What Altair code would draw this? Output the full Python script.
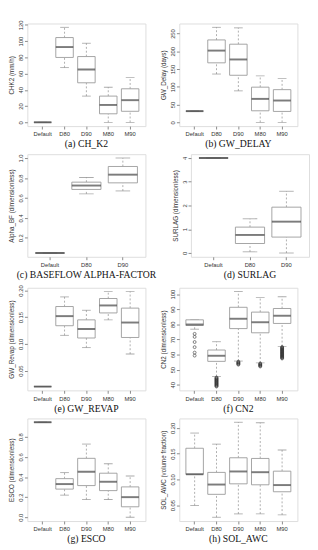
import altair as alt
import pandas as pd

CATS5 = ["Default", "D80", "D90", "M80", "M90"]
CATS3 = ["Default", "D80", "D90"]

# (a) CH_K2
a_lo = [0, 67.4, 32.3, 0, 0]
a_q1 = [0, 79.9, 48.7, 10.5, 13.6]
a_med = [0, 92.7, 65.0, 21.4, 27.3]
a_q3 = [0, 104.4, 81.0, 32.3, 41.3]
a_hi = [0, 117.0, 97.4, 43.2, 55.0]

# (b) GW_DELAY
b_lo = [31.5, 136, 88.6, 0, 0]
b_q1 = [31.5, 167.5, 132.5, 32.5, 30.7]
b_med = [31.5, 202, 177, 66, 61.4]
b_q3 = [31.5, 232, 220, 99, 92]
b_hi = [31.5, 267.5, 266, 130.7, 123.7]

# (c) BASEFLOW ALPHA-FACTOR
c_lo = [0.048, 0.641, 0.67]
c_q1 = [0.048, 0.685, 0.751]
c_med = [0.048, 0.724, 0.833]
c_q3 = [0.048, 0.758, 0.915]
c_hi = [0.048, 0.805, 1.0]

# (d) SURLAG
d_lo = [4, 0.05, 0]
d_q1 = [4, 0.4, 0.67]
d_med = [4, 0.76, 1.32]
d_q3 = [4, 1.09, 1.93]
d_hi = [4, 1.44, 2.6]

# (e) GW_REVAP
e_lo = [0.02, 0.116, 0.093, 0.145, 0.081]
e_q1 = [0.02, 0.134, 0.111, 0.158, 0.112]
e_med = [0.02, 0.152, 0.128, 0.172, 0.140]
e_q3 = [0.02, 0.170, 0.145, 0.185, 0.167]
e_hi = [0.02, 0.188, 0.163, 0.198, 0.198]

# (f) CN2
f_lo = [76.8, 45.5, 55.7, 54.5, 65.4]
f_q1 = [79.3, 55.5, 77.2, 74.4, 80.6]
f_med = [79.9, 59.2, 83.7, 81.4, 85.7]
f_q3 = [83.0, 63.0, 91.3, 88.1, 90.5]
f_hi = [83.0, 68.5, 101.7, 97.9, 98.3]
f_out_default = [73.7, 71.7, 68.3, 64.9, 61.3, 59.3]
f_out_d80 = [44.8, 44.4, 44.0, 43.6, 43.2, 42.8, 42.4, 42.0, 41.6, 41.2, 40.8,
             40.4, 40.0, 39.6, 39.2, 38.8]
f_out_d90 = [55.3, 54.9, 54.5, 54.1, 53.7, 53.3]
f_out_m80 = [54.1, 53.7, 53.3, 52.9, 52.5, 52.1]
f_out_m90 = [65.0, 64.6, 64.2, 63.8, 63.4, 63.0, 62.6, 62.2, 61.8, 61.4, 61.0,
             60.6, 60.2, 59.8, 59.4, 59.0, 58.6, 58.2, 57.8, 57.4]

# (g) ESCO
g_lo = [0.945, 0.22, 0.176, 0.176, 0.0]
g_q1 = [0.945, 0.28, 0.315, 0.265, 0.104]
g_med = [0.945, 0.33, 0.453, 0.353, 0.2]
g_q3 = [0.945, 0.384, 0.586, 0.438, 0.302]
g_hi = [0.945, 0.444, 0.728, 0.532, 0.41]

# (h) SOL_AWC
h_lo = [0.0494, 0.0265, 0.033, 0.033, 0.031]
h_q1 = [0.11, 0.071, 0.0914, 0.0895, 0.076]
h_med = [0.11, 0.090, 0.1154, 0.114, 0.089]
h_q3 = [0.1605, 0.1136, 0.142, 0.1407, 0.116]
h_hi = [0.19, 0.1685, 0.211, 0.21, 0.157]

W = 122
H = 106
SANS = "Liberation Sans"
SERIF = "Liberation Serif"


def panel(cats, lo, q1, med, q3, hi, outl, ytitle, caption, ticks, fmt):
    n = len(cats)
    df = pd.DataFrame(dict(cat=cats, lo=lo, q1=q1, med=med, q3=q3, hi=hi))
    ocat, oval = [], []
    for c, vals in outl.items():
        for v in vals:
            ocat.append(c)
            oval.append(v)
    odf = pd.DataFrame(dict(cat=ocat, val=oval))
    allv = lo + hi + oval
    vmin, vmax = min(allv), max(allv)
    pad = (vmax - vmin) * 0.04
    dom = [vmin - pad, vmax + pad]
    step = W / (1.08 * n)
    boxw = 0.8 * step

    xsc = alt.Scale(domain=cats, paddingInner=0, paddingOuter=0.04 * n)
    ysc = alt.Scale(domain=dom, nice=False, zero=False)
    xaxis = alt.Axis(title=None, labelAngle=0, labelFontSize=6, labelFont=SANS,
                     labelColor="#333", tickSize=3, tickColor="#888",
                     labelPadding=2, domain=False, grid=False)
    yaxis = alt.Axis(title=ytitle, values=ticks, format=fmt, labelAngle=270,
                     labelAlign="center", labelBaseline="bottom",
                     labelFontSize=6, labelFont=SANS, labelColor="#333",
                     labelPadding=1, labelFlush=False, labelOverlap=False,
                     tickSize=3, tickColor="#888", domain=False, grid=False,
                     titleFont=SANS, titleFontSize=6.5, titleFontWeight="normal",
                     titleColor="#333", titlePadding=3)

    def X():
        return alt.X("cat:N", scale=xsc, sort=cats, axis=xaxis)

    def Y(f):
        return alt.Y(f, scale=ysc, axis=yaxis)

    base = alt.Chart(df)
    wl = base.mark_rule(strokeDash=[2, 2], color="#999", strokeWidth=0.8).encode(
        x=X(), y=Y("lo:Q"), y2=alt.Y2("q1:Q"))
    wh = base.mark_rule(strokeDash=[2, 2], color="#999", strokeWidth=0.8).encode(
        x=X(), y=Y("q3:Q"), y2=alt.Y2("hi:Q"))
    sl = base.mark_tick(size=boxw * 0.5, thickness=0.9, color="#888").encode(
        x=X(), y=Y("lo:Q"))
    sh = base.mark_tick(size=boxw * 0.5, thickness=0.9, color="#888").encode(
        x=X(), y=Y("hi:Q"))
    box = base.mark_bar(width=boxw, fill="white", stroke="#999",
                        strokeWidth=0.9).encode(
        x=X(), y=Y("q1:Q"), y2=alt.Y2("q3:Q"))
    md = base.mark_tick(size=boxw, thickness=2, color="#444").encode(
        x=X(), y=Y("med:Q"))
    layers = [wl, wh, sl, sh, box, md]
    if len(odf):
        op = alt.Chart(odf).mark_point(shape="circle", filled=False, size=9,
                                       strokeWidth=0.9, color="#333").encode(
            x=X(), y=Y("val:Q"))
        layers.append(op)
    return alt.layer(*layers).properties(
        width=W, height=H,
        title=alt.TitleParams(caption, orient="bottom", font=SERIF, fontSize=10,
                              fontWeight="normal", color="#111", offset=3,
                              anchor="middle"))


pa = panel(CATS5, a_lo, a_q1, a_med, a_q3, a_hi, {}, "CHK2 (mm/h)",
           "(a) CH_K2", [0, 20, 40, 60, 80, 100, 120], "d")
pb = panel(CATS5, b_lo, b_q1, b_med, b_q3, b_hi, {}, "GW_Delay (days)",
           "(b) GW_DELAY", [0, 50, 100, 150, 200, 250], "d")
pc = panel(CATS3, c_lo, c_q1, c_med, c_q3, c_hi, {}, "Alpha_BF (dimensionless)",
           "(c) BASEFLOW ALPHA-FACTOR", [0.2, 0.4, 0.6, 0.8, 1.0], ".1f")
pd_ = panel(CATS3, d_lo, d_q1, d_med, d_q3, d_hi, {}, "SURLAG (dimensionless)",
            "(d) SURLAG", [0, 1, 2, 3, 4], "d")
pe = panel(CATS5, e_lo, e_q1, e_med, e_q3, e_hi, {}, "GW_Revap (dimensionless)",
           "(e) GW_REVAP", [0.05, 0.10, 0.15, 0.20], ".2f")
pf = panel(CATS5, f_lo, f_q1, f_med, f_q3, f_hi,
           {"Default": f_out_default, "D80": f_out_d80, "D90": f_out_d90,
            "M80": f_out_m80, "M90": f_out_m90},
           "CN2 (dimensionless)", "(f) CN2", [40, 50, 60, 70, 80, 90, 100], "d")
pg = panel(CATS5, g_lo, g_q1, g_med, g_q3, g_hi, {}, "ESCO (dimensionless)",
           "(g) ESCO", [0.0, 0.2, 0.4, 0.6, 0.8], ".1f")
ph = panel(CATS5, h_lo, h_q1, h_med, h_q3, h_hi, {}, "SOL_AWC (volume fraction)",
           "(h) SOL_AWC", [0.05, 0.10, 0.15, 0.20], ".2f")

rows = [alt.hconcat(pa, pb, spacing=14), alt.hconcat(pc, pd_, spacing=14),
        alt.hconcat(pe, pf, spacing=14), alt.hconcat(pg, ph, spacing=14)]
chart = alt.vconcat(*rows, spacing=3).properties(
    padding={"left": 0, "top": 2, "right": 0, "bottom": 0}
).configure_view(stroke="#999", strokeWidth=1).configure(background="white")

chart.save("out.html", embed_options={"renderer": "svg", "actions": False})
